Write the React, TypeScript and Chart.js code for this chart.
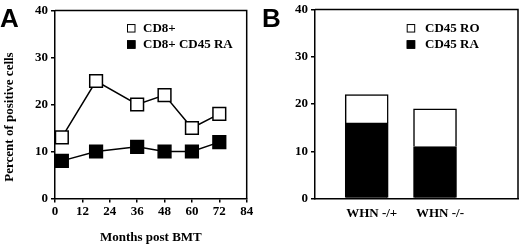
import React, { useEffect, useRef } from 'react';
import { Chart, registerables } from 'chart.js';
Chart.register(...registerables);

// ---- Data ----
const monthsA = [3, 18, 36, 48, 60, 72];
const cd8Values = [13, 25, 20, 22, 15, 18];
const cd8RaValues = [8, 10, 11, 10, 10, 12];
const seriesA = ['CD8+', 'CD8+ CD45 RA'];
const xTicksA = [0, 12, 24, 36, 48, 60, 72, 84];
const yTicks = [0, 10, 20, 30, 40];

const groupsB = ['WHN -/+', 'WHN -/-'];
const raValues = [16, 11];
const roValues = [6, 8];
const seriesB = ['CD45 RA', 'CD45 RO'];

const SERIF = '"Liberation Serif", "Times New Roman", serif';
const FONT = { family: SERIF, weight: 'bold' as const, size: 13, lineHeight: 1 };
const CTX_FONT = 'bold 13px "Liberation Serif", "Times New Roman", serif';

const framePlugin = {
  id: 'frame',
  afterDraw(chart: any) {
    const { ctx, chartArea: a } = chart;
    ctx.save();
    ctx.strokeStyle = '#000';
    ctx.lineWidth = 1.5;
    ctx.beginPath();
    ctx.moveTo(a.left, a.top);
    ctx.lineTo(a.right, a.top);
    ctx.lineTo(a.right, a.bottom);
    ctx.stroke();
    ctx.restore();
  },
};

const boxLegendPlugin = {
  id: 'boxLegend',
  afterDraw(chart: any, _args: any, opts: any) {
    const { ctx } = chart;
    ctx.save();
    opts.order.forEach((dsIndex: number, i: number) => {
      const ds = chart.data.datasets[dsIndex];
      const y = opts.y + i * opts.gap;
      const s = opts.size;
      ctx.fillStyle = ds.legendFill;
      ctx.fillRect(opts.x, y - s / 2, s, s);
      ctx.strokeStyle = '#000';
      ctx.lineWidth = 1;
      ctx.strokeRect(opts.x + 0.5, y - s / 2 + 0.5, s - 1, s - 1);
      ctx.fillStyle = '#000';
      ctx.font = CTX_FONT;
      ctx.textBaseline = 'middle';
      ctx.textAlign = 'left';
      ctx.fillText(ds.label, opts.x + opts.textOffset, y + 0.5);
    });
    ctx.restore();
  },
};

const annotationPlugin = {
  id: 'panelText',
  afterDraw(chart: any, _args: any, opts: any) {
    const { ctx } = chart;
    ctx.save();
    ctx.fillStyle = '#000';
    ctx.font = 'bold 26px "Liberation Sans", Arial, sans-serif';
    ctx.textAlign = 'left';
    ctx.textBaseline = 'alphabetic';
    ctx.fillText(opts.letter, opts.letterX, opts.letterY);
    if (opts.yTitle) {
      ctx.font = CTX_FONT;
      ctx.translate(opts.yTitleX, opts.yTitleY);
      ctx.rotate(-Math.PI / 2);
      ctx.textAlign = 'center';
      ctx.textBaseline = 'middle';
      ctx.fillText(opts.yTitle, 0, 0);
    }
    ctx.restore();
  },
};

const tickGrid = {
  display: true,
  drawOnChartArea: false,
  drawTicks: true,
  tickLength: 4,
  color: '#000',
  lineWidth: 1.5,
};
const axisBorder = { display: true, color: '#000', width: 1.5 };

function yScale() {
  return {
    min: 0,
    max: 40,
    afterBuildTicks: (s: any) => {
      s.ticks = yTicks.map((v) => ({ value: v }));
    },
    afterFit: (s: any) => {
      s.width = 55;
    },
    grid: tickGrid,
    border: axisBorder,
    ticks: { color: '#000', font: FONT, padding: 3 },
  };
}

function ChartA() {
  const ref = useRef<HTMLCanvasElement>(null);
  useEffect(() => {
    const chart = new Chart(ref.current!, {
      type: 'line',
      data: {
        datasets: [
          {
            label: seriesA[0],
            data: monthsA.map((m, i) => ({ x: m, y: cd8Values[i] })),
            borderColor: '#000',
            borderWidth: 1.5,
            pointStyle: 'rect',
            pointRadius: 9,
            pointBackgroundColor: '#fff',
            pointBorderColor: '#000',
            pointBorderWidth: 1.5,
            legendFill: '#fff',
          } as any,
          {
            label: seriesA[1],
            data: monthsA.map((m, i) => ({ x: m, y: cd8RaValues[i] })),
            borderColor: '#000',
            borderWidth: 1.5,
            pointStyle: 'rect',
            pointRadius: 9,
            pointBackgroundColor: '#000',
            pointBorderColor: '#000',
            pointBorderWidth: 1.5,
            legendFill: '#000',
          } as any,
        ],
      },
      options: {
        animation: false,
        responsive: false,
        maintainAspectRatio: false,
        layout: { padding: { top: 7, right: 13.3, left: 0, bottom: 0 } },
        scales: {
          x: {
            type: 'linear',
            min: 0,
            max: 84,
            afterBuildTicks: (s: any) => {
              s.ticks = xTicksA.map((v) => ({ value: v }));
            },
            afterFit: (s: any) => {
              s.height = 46.5;
            },
            grid: tickGrid,
            border: axisBorder,
            ticks: { color: '#000', font: FONT, padding: 3, maxRotation: 0, autoSkip: false },
            title: {
              display: true,
              text: 'Months post BMT',
              color: '#000',
              font: { family: SERIF, weight: 'bold', size: 13 },
              padding: { top: 0, bottom: 0 },
            },
          },
          y: yScale() as any,
        },
        plugins: {
          legend: { display: false },
          tooltip: { enabled: false },
          boxLegend: { x: 127, y: 28.3, gap: 16.2, size: 8.5, textOffset: 16, order: [0, 1] },
          panelText: { letter: 'A', letterX: 0, letterY: 27, yTitle: 'Percent of positive cells', yTitleX: 10, yTitleY: 117 },
        } as any,
      },
      plugins: [framePlugin, boxLegendPlugin, annotationPlugin],
    });
    return () => chart.destroy();
  }, []);
  return <canvas ref={ref} width={260} height={245} style={{ width: 260, height: 245, display: 'block' }} />;
}

function ChartB() {
  const ref = useRef<HTMLCanvasElement>(null);
  useEffect(() => {
    const chart = new Chart(ref.current!, {
      type: 'bar',
      data: {
        datasets: [
          {
            label: seriesB[0],
            data: groupsB.map((_, i) => ({ x: i + 1, y: raValues[i] })),
            backgroundColor: '#000',
            borderColor: '#000',
            borderWidth: 1.5,
            barThickness: 43,
            legendFill: '#000',
          } as any,
          {
            label: seriesB[1],
            data: groupsB.map((_, i) => ({ x: i + 1, y: roValues[i] })),
            backgroundColor: '#fff',
            borderColor: '#000',
            borderWidth: 1.5,
            barThickness: 43,
            legendFill: '#fff',
          } as any,
        ],
      },
      options: {
        animation: false,
        responsive: false,
        maintainAspectRatio: false,
        layout: { padding: { top: 7, right: 2, left: 0, bottom: 0 } },
        scales: {
          x: {
            type: 'linear',
            stacked: true,
            offset: false,
            bounds: 'data',
            min: 0.243,
            max: 3.215,
            afterBuildTicks: (s: any) => {
              s.ticks = groupsB.map((_, i) => ({ value: i + 1 }));
            },
            afterFit: (s: any) => {
              s.height = 46.5;
            },
            grid: { display: false, drawTicks: false, offset: false },
            border: axisBorder,
            ticks: {
              color: '#000',
              font: FONT,
              padding: 9,
              labelOffset: 5,
              maxRotation: 0,
              autoSkip: false,
              callback: (v: any) => groupsB[Math.round(v) - 1] ?? '',
            },
          },
          y: { ...(yScale() as any), stacked: true },
        },
        plugins: {
          legend: { display: false },
          tooltip: { enabled: false },
          boxLegend: { x: 146.7, y: 28.3, gap: 16.2, size: 8.5, textOffset: 18.3, order: [1, 0] },
          panelText: { letter: 'B', letterX: 2, letterY: 27 },
        } as any,
      },
      plugins: [framePlugin, boxLegendPlugin, annotationPlugin],
    });
    return () => chart.destroy();
  }, []);
  return <canvas ref={ref} width={260} height={245} style={{ width: 260, height: 245, display: 'block' }} />;
}

export default function App() {
  return (
    <div style={{ position: 'absolute', left: 0, top: 0, width: 520, height: 245, display: 'flex', background: '#fff' }}>
      <ChartA />
      <ChartB />
    </div>
  );
}
